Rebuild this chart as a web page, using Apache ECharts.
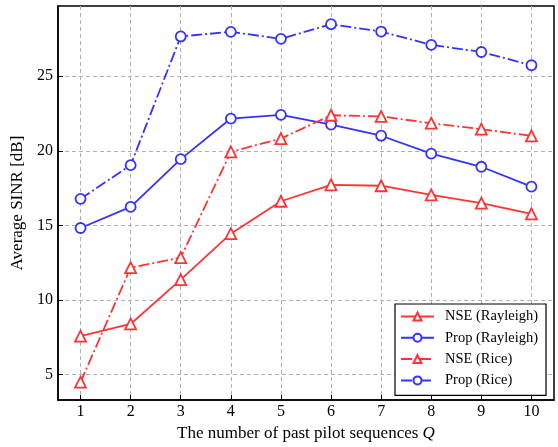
<!DOCTYPE html>
<html>
<head>
<meta charset="utf-8">
<script src="https://cdn.jsdelivr.net/npm/echarts@6/dist/echarts.min.js"></script>
<style>
html,body{margin:0;padding:0;background:#fff;}
#chart{width:558px;height:447px;}
</style>
</head>
<body>
<div id="chart"></div>
<script>
const qValues = [1, 2, 3, 4, 5, 6, 7, 8, 9, 10];
const nseRayleigh = [7.58, 8.40, 11.37, 14.45, 16.62, 17.72, 17.66, 17.05, 16.49, 15.78];
const propRayleigh = [14.83, 16.24, 19.44, 22.16, 22.41, 21.76, 21.01, 19.81, 18.93, 17.60];
const nseRice = [4.50, 12.17, 12.85, 19.93, 20.82, 22.38, 22.30, 21.85, 21.45, 21.00];
const propRice = [16.78, 19.04, 27.66, 27.97, 27.50, 28.48, 27.99, 27.10, 26.62, 25.73];
const xTicks = [1, 2, 3, 4, 5, 6, 7, 8, 9, 10];
const yTicks = [5, 10, 15, 20, 25];
const seriesNames = ['NSE (Rayleigh)', 'Prop (Rayleigh)', 'NSE (Rice)', 'Prop (Rice)'];

const RED = '#ff3333', BLUE = '#3333ff';
const FONT = "'Liberation Serif', 'Times New Roman', serif";
const dashDot = [11, 3, 2, 3];

function pairs(vals) { return qValues.map((q, i) => [q, vals[i]]); }

function mk(name, vals, color, symbol, dashed) {
  return {
    name: name,
    type: 'line',
    data: pairs(vals),
    symbol: symbol,
    symbolSize: symbol === 'triangle' ? 11 : 10,
    showAllSymbol: true,
    lineStyle: { color: color, width: 1.8, type: dashed ? dashDot : 'solid' },
    itemStyle: { color: '#ffffff', borderColor: color, borderWidth: 1.8 },
    emphasis: { disabled: true },
    animation: false,
    z: 3
  };
}

const chart = echarts.init(document.getElementById('chart'), null, { renderer: 'canvas' });
chart.setOption({
  backgroundColor: '#ffffff',
  animation: false,
  textStyle: { fontFamily: FONT },
  grid: {
    left: 58, top: 6, right: 4, bottom: 45,
    show: true, borderColor: '#000', borderWidth: 1.5, backgroundColor: 'transparent'
  },
  xAxis: {
    type: 'value',
    min: 0.55, max: 10.45,
    name: 'The number of past pilot sequences {i|Q}',
    nameLocation: 'middle',
    nameGap: 23,
    nameTextStyle: {
      fontFamily: FONT, fontSize: 17, color: '#000',
      rich: { i: { fontFamily: FONT, fontSize: 17, fontStyle: 'italic', color: '#000' } }
    },
    axisLine: { show: true, onZero: false, lineStyle: { color: '#000', width: 1.5 } },
    axisTick: { show: true, inside: true, length: 5, lineStyle: { color: '#000', width: 1 }, customValues: xTicks },
    axisLabel: { show: true, margin: 4, fontFamily: FONT, fontSize: 16, color: '#000', customValues: xTicks },
    splitLine: { show: true, lineStyle: { color: '#b0b0b0', width: 1, type: [4, 3] } }
  },
  yAxis: {
    type: 'value',
    min: 3.3, max: 29.7,
    name: 'Average SINR [dB]',
    nameLocation: 'middle',
    nameGap: 25,
    nameTextStyle: { fontFamily: FONT, fontSize: 17, color: '#000' },
    axisLine: { show: true, onZero: false, lineStyle: { color: '#000', width: 1.5 } },
    axisTick: { show: true, inside: true, length: 5, lineStyle: { color: '#000', width: 1 }, customValues: yTicks },
    axisLabel: { show: true, margin: 5, fontFamily: FONT, fontSize: 16, color: '#000', customValues: yTicks },
    splitLine: { show: true, lineStyle: { color: '#b0b0b0', width: 1, type: [4, 3] } }
  },
  legend: {
    orient: 'vertical',
    left: 395, top: 304,
    padding: [5, 8, 7.5, 5],
    itemWidth: 33, itemHeight: 10, itemGap: 6.3,
    borderColor: '#000', borderWidth: 1.2, borderRadius: 0,
    backgroundColor: '#ffffff',
    textStyle: { fontFamily: FONT, fontSize: 14.5, color: '#000', padding: [0, 0, 0, 6] },
    data: seriesNames,
    selectedMode: false
  },
  series: [
    mk(seriesNames[0], nseRayleigh, RED, 'triangle', false),
    mk(seriesNames[1], propRayleigh, BLUE, 'circle', false),
    mk(seriesNames[2], nseRice, RED, 'triangle', true),
    mk(seriesNames[3], propRice, BLUE, 'circle', true)
  ]
});
</script>
</body>
</html>
